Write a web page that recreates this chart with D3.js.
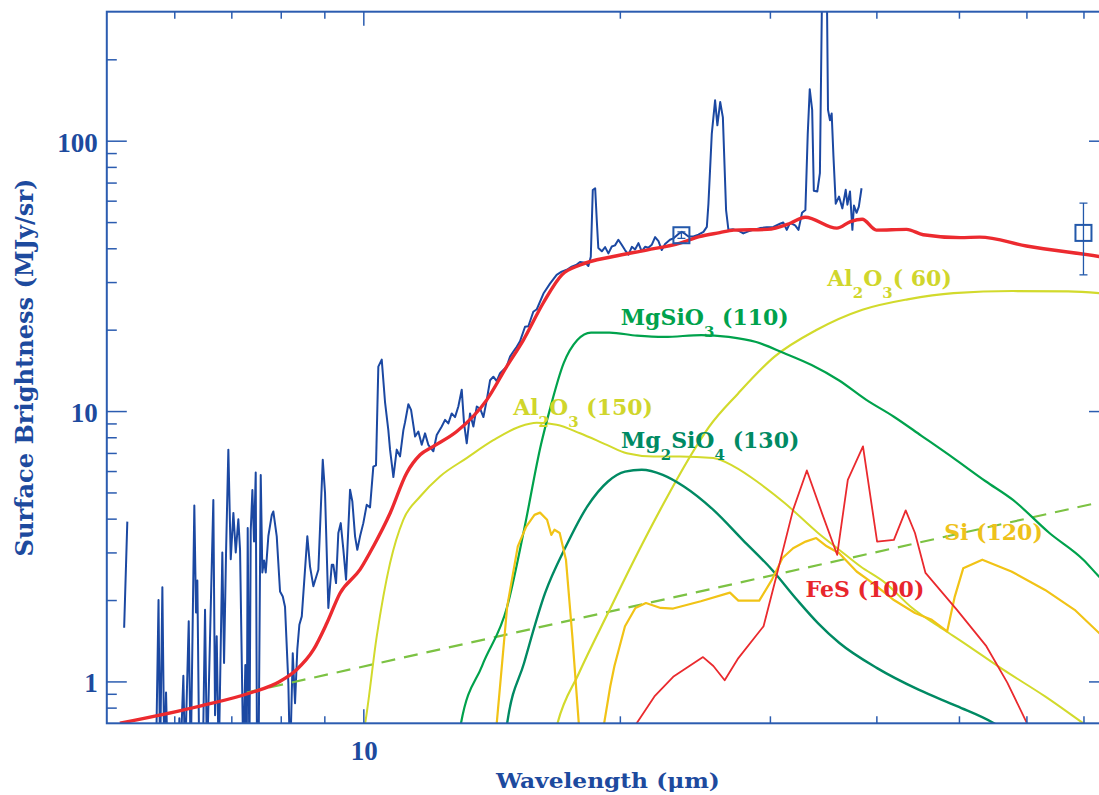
<!DOCTYPE html>
<html>
<head>
<meta charset="utf-8">
<script src="https://cdn.jsdelivr.net/npm/d3@7"></script>
<style>
  body { margin: 0; background: #ffffff; }
  text { white-space: pre; }
</style>
</head>
<body>
<svg id="chart" width="1099" height="795"></svg>
<script>
// ---- axis ticks ----
const wavelengthMajorTicks = [10];
const wavelengthMinorTicks = [6, 7, 8, 9, 20, 30, 40, 50, 60, 70];
const wavelengthTickLabels = ["10"];
const brightnessMajorTicks = [1, 10, 100];
const brightnessMinorTicks = [0.8, 0.9, 2, 3, 4, 5, 6, 7, 8, 9, 20, 30, 40, 50, 60, 70, 80, 90, 200];
const brightnessTickLabels = ["1", "10", "100"];

// ---- observed spectrum [wavelength (um), MJy/sr]; null = no valid data ----
const spectrum = [
  [5.24,1.58],[5.285,3.9], null,
  [5.71,0.5],[5.75,2.0],[5.774,0.5],[5.81,2.23],[5.841,0.5],[5.868,0.91],[5.895,0.5],
  [6.07,0.5],[6.083,0.73],[6.1,0.5],[6.149,1.05],[6.177,0.5],[6.239,1.67],[6.273,0.5],
  [6.334,4.47],[6.363,1.8],[6.386,2.36],[6.42,0.5],[6.48,0.5],[6.52,1.84],[6.555,0.5],
  [6.668,4.69],[6.699,0.75],[6.729,1.47],[6.766,0.5],[6.832,3.0],[6.864,1.17],[6.901,3.0],
  [6.944,7.2],[6.989,2.83],[7.039,4.2],[7.084,3.0],[7.134,3.98],[7.167,3.07],[7.231,0.5],
  [7.27,1.15],[7.297,0.5],[7.317,3.69],[7.35,0.5],[7.377,3.6],[7.41,5.1],[7.443,3.29],
  [7.477,5.93],[7.504,0.5],[7.534,0.5],[7.579,5.8],[7.612,2.53],[7.647,2.8],[7.682,2.53],
  [7.737,3.45],[7.809,4.13],[7.842,4.25],[7.914,3.44],[7.985,2.15],[8.044,2.06],[8.093,1.89],
  [8.166,0.99],[8.204,0.5],[8.264,1.27],[8.315,0.83],[8.367,1.32],[8.413,1.62],[8.468,1.74],
  [8.596,3.44],[8.659,2.66],[8.737,2.25],[8.856,2.59],[8.962,6.6],[9.017,4.97],[9.098,1.87],
  [9.182,2.7],[9.222,2.7],[9.289,2.31],[9.347,3.54],[9.408,3.85],[9.475,3.07],[9.544,2.38],
  [9.648,5.12],[9.708,4.63],[9.779,3.44],[9.839,3.07],[9.912,3.44],[10.0,3.85],[10.092,4.5],
  [10.183,4.4],[10.274,6.23],[10.349,6.3],[10.414,14.6],[10.51,15.5],[10.604,10.8],[10.699,8.5],
  [10.749,7.2],[10.846,5.7],[10.945,7.2],[11.043,6.8],[11.143,8.5],[11.194,9.1],[11.294,10.6],
  [11.377,10.1],[11.502,8.05],[11.603,8.4],[11.71,7.5],[11.815,8.27],[11.92,7.5],[12.083,7.1],
  [12.194,8.16],[12.36,8.77],[12.471,9.28],[12.582,9.0],[12.698,9.8],[12.812,9.5],[12.927,10.4],
  [13.046,12.0],[13.128,9.0],[13.224,7.6],[13.343,9.8],[13.463,8.77],[13.588,10.4],[13.711,10.2],
  [13.834,9.5],[13.96,11.0],[14.085,13.0],[14.21,13.4],[14.34,12.9],[14.47,13.8],[14.73,14.6],
  [14.866,15.9],[15.0,16.6],[15.136,17.3],[15.27,18.1],[15.48,20.5],[15.62,20.6],[15.83,23.3],
  [15.98,23.8],[16.27,27.2],[16.56,29.6],[16.86,31.9],[17.09,32.8],[17.33,33.3],[17.56,34.2],
  [17.8,34.8],[17.96,35.6],[18.21,35.4],[18.37,34.4],[18.49,37.2],[18.59,65.7],[18.71,66.7],
  [18.79,51],[18.87,40.1],[19.05,39.0],[19.22,40.4],[19.39,38.3],[19.57,40.6],[19.74,41.0],
  [19.92,43.0],[20.1,41.2],[20.28,39.4],[20.47,37.9],[20.66,40.5],[20.84,39.6],[21.03,41.8],
  [21.22,39.0],[21.41,40.5],[21.6,40.2],[21.8,41.2],[22.0,44.0],[22.2,42.5],[22.4,39.4],
  [22.6,41.5],[22.9,43.0],[23.11,43.5],[23.43,45.2],[23.65,46.0],[23.86,45.2],[24.07,44.2],
  [24.4,44.2],[24.73,44.9],[25.07,46.0],[25.3,48.0],[25.41,58.5],[25.64,106],[25.87,141],
  [26.03,114],[26.23,139],[26.42,122],[26.65,55.4],[26.82,46.8],[27.18,47.0],[27.55,46.5],
  [27.92,45.4],[28.3,46.2],[28.68,46.8],[29.2,47.5],[29.75,47.8],[30.28,48.0],[30.83,49.3],
  [31.1,49.8],[31.4,46.8],[31.68,49.7],[32.12,48.6],[32.41,46.8],[32.72,54.1],[33.02,55.4],
  [33.23,106],[33.41,155],[33.63,130],[33.78,65.3],[34.1,64.9],[34.34,75.8],[34.57,450],
  [34.97,450],[35.1,130],[35.29,119],[35.45,126],[35.62,87.7],[35.84,58.5],[36.16,62.1],
  [36.49,56.2],[36.82,65.8],[36.99,58],[37.25,64.9],[37.49,46.8],[37.65,57.6],[37.92,54.1],
  [38.15,57.0],[38.43,66.7]
];

// ---- broadband photometry ----
const photWavelength = [23.62, 70];
const photValue = [44.7, 45.6];
const photLow = [43.5, 31.9];
const photHigh = [46.0, 58.8];

// ---- total model ----
const totalModel = [
  [5.18,0.70],[6.43,0.81],[7.36,0.906],[7.98,1.0],[8.35,1.105],[8.74,1.31],[9.06,1.64],
  [9.39,2.12],[9.91,2.59],[10.27,3.15],[10.75,4.19],[11.24,5.89],[11.66,6.89],[12.07,7.39],
  [12.87,8.4],[13.96,11.0],[14.73,14.6],[15.41,18.3],[16.26,25.1],[17.1,31.9],[17.97,34.7],
  [19.65,37.3],[21.5,39.4],[23.54,41.8],[24.8,44.2],[26.2,45.7],[27.2,46.7],[29.8,47.0],
  [31.7,49.5],[33.0,52.1],[35.95,47.5],[37.3,50.2],[38.5,51.2],[40.0,46.7],[43.4,47.0],
  [45.4,44.9],[50.2,43.8],[52.9,44.0],[60,40.8],[73,37.3],[75,36.8]
];

// ---- dust components ----
const mgsio3 = [
  [12.9,0.55],[13.02,0.70],[13.78,1.14],[14.75,1.89],[15.44,3.64],[16.16,7.5],
  [16.55,10.1],[17.18,15.0],[17.83,18.3],[18.5,19.5],[19.45,19.5],[20.95,19.0],[22.56,18.8],
  [24.93,19.1],[26.84,18.8],[28.91,18.0],[31.15,16.4],[33.58,14.8],[36.14,13.0],[38.93,11.0],
  [41.94,9.53],[45.19,8.1],[49.27,6.7],[53.74,5.5],[57.86,4.69],[63.84,3.54],[69.97,2.82],
  [73.03,2.44],[75,2.25]
];
const mg2sio4 = [
  [14.6,0.55],[14.75,0.70],[15.44,1.17],[16.34,2.12],[17.29,3.16],[18.31,4.43],[19.37,5.49],
  [20.28,5.97],[21.22,6.07],[22.46,5.81],[23.78,5.26],[25.75,4.31],[27.87,3.34],[30.17,2.59],
  [32.3,2.0],[34.18,1.64],[36.17,1.39],[40.08,1.12],[44.9,0.93],[49.73,0.81],[54.96,0.70],[57,0.65]
];
const al2o3Warm = [
  [9.9,0.55],[10.05,0.70],[10.37,1.47],[10.75,2.74],[11.14,3.96],[11.66,4.83],[12.3,5.73],
  [13.22,6.7],[14.21,7.8],[15.27,8.77],[15.98,9.05],[16.86,8.9],[17.96,8.28],[19.31,7.5],
  [20.38,6.98],[21.9,6.79],[23.53,6.79],[25.75,6.7],[27.24,6.23],[29.13,5.42],[31.22,4.57],
  [34.17,3.54],[36.17,3.07],[38.33,2.66],[41.0,2.31],[43.89,1.89],[48.06,1.55],[50.3,1.41],
  [56.35,1.105],[63.1,0.88],[69.97,0.70],[75,0.6]
];
const al2o3Cold = [
  [16.6,0.55],[16.9,0.70],[17.9,1.07],[19.37,1.79],[20.98,2.98],[22.72,4.8],[24.31,6.98],
  [25.45,8.74],[27.52,11.6],[30.38,15.9],[33.97,19.9],[38.52,23.7],[43.53,25.9],[49.27,27.3],
  [57.86,27.8],[67.16,27.7],[73.03,27.3],[75,27.1]
];
const silicon = [
  [14.2,0.5],[14.34,0.70],[14.75,1.89],[15.18,3.16],[15.53,3.74],[15.88,4.13],[16.12,4.21],
  [16.43,3.96],[16.62,3.48],[16.76,3.64],[17.0,3.54],[17.29,2.82],[17.59,1.47],[17.9,0.70],
  [18.1,0.5],[19.0,0.5],[19.17,0.70],[19.49,0.96],[19.71,1.14],[20.28,1.6],[20.86,1.87],
  [21.46,1.95],[22.33,1.87],[23.1,1.86],[24.89,1.98],[26.93,2.13],[27.55,1.99],[29.15,1.99],
  [30.17,2.38],[31.04,2.86],[31.94,3.11],[33.04,3.29],[34.0,3.39],[34.98,3.16],[36.18,2.98],
  [37.92,2.55],[39.61,2.31],[41.94,2.0],[44.4,1.79],[46.46,1.69],[48.43,1.53],[49.44,2.06],
  [50.58,2.62],[53.26,2.82],[57.62,2.55],[63.1,2.18],[68.35,1.84],[73.03,1.51],[75,1.42]
];
const troilite = [
  [20.6,0.55],[20.93,0.70],[21.96,0.88],[23.1,1.04],[25.04,1.23],[25.75,1.14],[26.55,1.01],
  [27.55,1.22],[29.49,1.6],[30.52,2.44],[31.94,4.31],[33.15,6.03],[34.59,4.13],[35.98,2.94],
  [37.03,5.57],[38.58,7.4],[40.08,3.29],[41.94,3.34],[43.3,4.29],[44.4,3.54],[45.68,2.52],
  [49.73,1.84],[53.84,1.35],[56.98,0.99],[60.1,0.70],[61,0.6]
];
// power-law continuum
const continuum = [[7.3,0.91],[75,4.68]];

(function draw() {
  const svg = d3.select("#chart");
  const pLeft = 106.8, pRight = 1109, pTop = 11.7, pBottom = 723.3;
  const x = d3.scaleLog().domain([5, 75]).range([pLeft, pRight]);
  const y = d3.scaleLog().domain([0.7, 300]).range([pBottom, pTop]);

  const axisColor = "#2b5cb0";
  const textBlue = "#1d4a9e";

  svg.append("defs").append("clipPath").attr("id", "plotClip")
    .append("rect").attr("x", pLeft).attr("y", pTop)
    .attr("width", pRight - pLeft).attr("height", pBottom - pTop);

  const plotArea = svg.append("g").attr("clip-path", "url(#plotClip)");

  function path(data, curve) {
    return d3.line()
      .defined(d => d !== null)
      .x(d => x(d[0])).y(d => y(d[1]))
      .curve(curve)(data);
  }

  // observed spectrum
  plotArea.append("path").attr("d", path(spectrum, d3.curveLinear))
    .attr("fill", "none").attr("stroke", "#1b48a2").attr("stroke-width", 2)
    .attr("stroke-linejoin", "round");

  // components
  const comps = [
    { data: continuum, color: "#7cc243", width: 2.2, dash: "14,9", curve: d3.curveLinear },
    { data: al2o3Warm, color: "#d2da2c", width: 2, curve: d3.curveMonotoneX },
    { data: al2o3Cold, color: "#d2da2c", width: 2.2, curve: d3.curveMonotoneX },
    { data: mgsio3, color: "#00a24c", width: 2.2, curve: d3.curveMonotoneX },
    { data: mg2sio4, color: "#008a63", width: 2.4, curve: d3.curveMonotoneX },
    { data: silicon, color: "#f1c316", width: 2.2, curve: d3.curveLinear },
    { data: troilite, color: "#ea2a2e", width: 1.8, curve: d3.curveLinear }
  ];
  comps.forEach(c => {
    plotArea.append("path").attr("d", path(c.data, c.curve))
      .attr("fill", "none").attr("stroke", c.color).attr("stroke-width", c.width)
      .attr("stroke-dasharray", c.dash || null).attr("stroke-linejoin", "round");
  });

  // total model
  plotArea.append("path").attr("d", path(totalModel, d3.curveMonotoneX))
    .attr("fill", "none").attr("stroke", "#ec2a2f").attr("stroke-width", 3.4)
    .attr("stroke-linejoin", "round");

  // photometry with error bars
  const phot = photWavelength.map((w, i) => ({ w, v: photValue[i], lo: photLow[i], hi: photHigh[i] }));
  const pg = plotArea.append("g").attr("stroke", "#2358aa").attr("fill", "none");
  phot.forEach(p => {
    const cx = x(p.w);
    pg.append("line").attr("x1", cx).attr("x2", cx).attr("y1", y(p.lo)).attr("y2", y(p.hi)).attr("stroke-width", 1.3);
    [p.lo, p.hi].forEach(v => pg.append("line").attr("x1", cx - 4).attr("x2", cx + 4)
      .attr("y1", y(v)).attr("y2", y(v)).attr("stroke-width", 1.3));
    pg.append("rect").attr("x", cx - 8).attr("y", y(p.v) - 8).attr("width", 16).attr("height", 16)
      .attr("stroke-width", 2);
  });

  // ---- axes ----
  svg.append("rect").attr("x", pLeft).attr("y", pTop).attr("width", pRight - pLeft).attr("height", pBottom - pTop)
    .attr("fill", "none").attr("stroke", axisColor).attr("stroke-width", 2);

  function tickSet(axisFn, scale, values, size, transform) {
    svg.append("g").attr("transform", transform).attr("color", axisColor)
      .call(axisFn(scale).tickValues(values).tickSize(size).tickSizeOuter(0).tickFormat(() => ""))
      .call(g => g.select(".domain").remove())
      .selectAll(".tick line").attr("stroke-width", 1.5);
  }
  tickSet(d3.axisBottom, x, wavelengthMinorTicks, -7, `translate(0,${pBottom})`);
  tickSet(d3.axisBottom, x, wavelengthMajorTicks, -14, `translate(0,${pBottom})`);
  tickSet(d3.axisTop, x, wavelengthMinorTicks, -7, `translate(0,${pTop})`);
  tickSet(d3.axisTop, x, wavelengthMajorTicks, -14, `translate(0,${pTop})`);
  tickSet(d3.axisLeft, y, brightnessMinorTicks, -10, `translate(${pLeft},0)`);
  tickSet(d3.axisLeft, y, brightnessMajorTicks, -20, `translate(${pLeft},0)`);
  tickSet(d3.axisRight, y, brightnessMinorTicks, -10, `translate(${pRight},0)`);
  tickSet(d3.axisRight, y, brightnessMajorTicks, -20, `translate(${pRight},0)`);

  // tick labels
  const tickFont = "'Liberation Serif', 'Times New Roman', serif";
  brightnessMajorTicks.forEach((v, i) => {
    svg.append("text").attr("x", pLeft - 9).attr("y", y(v) + 11)
      .attr("text-anchor", "end").attr("font-family", tickFont).attr("font-weight", "bold")
      .attr("font-size", 27).attr("fill", textBlue).text(brightnessTickLabels[i]);
  });
  wavelengthMajorTicks.forEach((v, i) => {
    svg.append("text").attr("x", x(v) + 1).attr("y", 760)
      .attr("text-anchor", "middle").attr("font-family", tickFont).attr("font-weight", "bold")
      .attr("font-size", 27).attr("fill", textBlue).text(wavelengthTickLabels[i]);
  });

  // axis titles
  const labelFont = "'DejaVu Serif', serif";
  svg.append("text").attr("x", (pLeft + pRight) / 2).attr("y", 788)
    .attr("text-anchor", "middle").attr("font-family", labelFont).attr("font-weight", "bold")
    .attr("font-size", 21).attr("fill", textBlue)
    .attr("textLength", 224).attr("lengthAdjust", "spacingAndGlyphs")
    .text("Wavelength (\u03bcm)");
  svg.append("text")
    .attr("transform", `translate(33,${(pTop + pBottom) / 2}) rotate(-90)`)
    .attr("text-anchor", "middle").attr("font-family", labelFont).attr("font-weight", "bold")
    .attr("font-size", 24).attr("fill", textBlue)
    .attr("textLength", 378).attr("lengthAdjust", "spacingAndGlyphs")
    .text("Surface Brightness (MJy/sr)");

  // component labels: parts are [text, isSubscript]
  function label(wl, val, color, parts) {
    const t = svg.append("text").attr("x", x(wl)).attr("y", y(val))
      .attr("font-family", labelFont).attr("font-weight", "bold").attr("fill", color);
    let lowered = false;
    parts.forEach(([s, sub]) => {
      const ts = t.append("tspan").text(s).attr("font-size", sub ? 15 : 22);
      if (sub && !lowered) { ts.attr("dy", 12); lowered = true; }
      else if (!sub && lowered) { ts.attr("dy", -12); lowered = false; }
    });
  }
  label(20.05, 20.8, "#00a24c", [["MgSiO"], ["3", true], [" (110)"]]);
  label(35.03, 29.0, "#d0d62c", [["Al"], ["2", true], ["O"], ["3", true], ["( 60)"]]);
  label(14.99, 9.68, "#d0d62c", [["Al"], ["2", true], ["O"], ["3", true], [" (150)"]]);
  label(20.06, 7.31, "#008a63", [["Mg"], ["2", true], ["SiO"], ["4", true], [" (130)"]]);
  label(48.04, 3.34, "#eec21a", [["Si (120)"]]);
  label(33.04, 2.06, "#e8262c", [["FeS (100)"]]);
})();
</script>
</body>
</html>
